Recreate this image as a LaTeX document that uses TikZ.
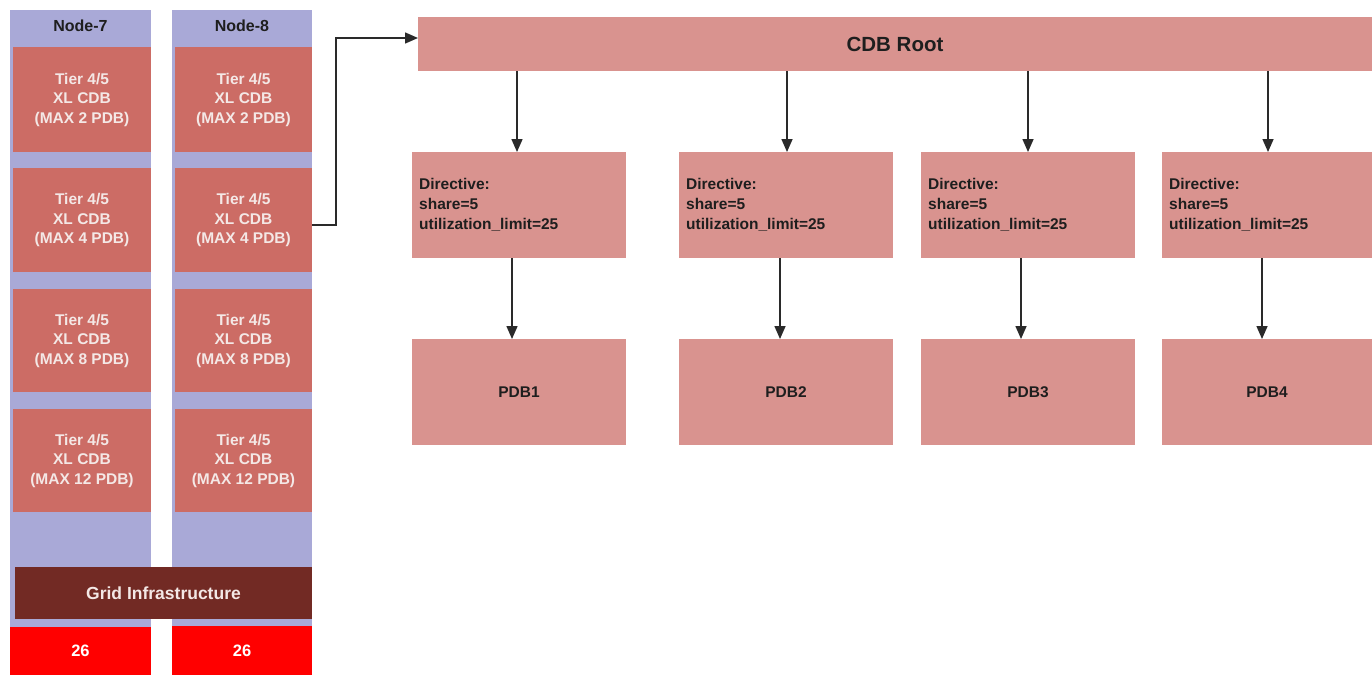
\documentclass[tikz,border=0pt]{standalone}
\usepackage{fontspec}
\setmainfont{Liberation Sans}
\usetikzlibrary{arrows.meta}
\definecolor{lav}{HTML}{A9A9D7}
\definecolor{tier}{HTML}{CC6C65}
\definecolor{pinkbox}{HTML}{D9938F}
\definecolor{grid}{HTML}{722A24}
\definecolor{redbox}{HTML}{FF0000}
\definecolor{lighttxt}{HTML}{F4E8E6}
\definecolor{darktxt}{HTML}{1E1E1E}
\definecolor{arrowc}{HTML}{2A2A2A}
\tikzset{
  box/.style={rectangle, inner sep=0pt, outer sep=0pt, draw=none},
  column/.style={box, fill=lav},
  tierbox/.style={box, fill=tier, text=lighttxt, align=center,
    font=\bfseries\fontsize{15.5}{19.5}\selectfont},
  hdr/.style={text=darktxt, font=\bfseries\fontsize{16}{19}\selectfont, inner sep=0pt},
  gridbox/.style={box, fill=grid, text=lighttxt, font=\bfseries\fontsize{17.5}{20}\selectfont},
  numbox/.style={box, fill=redbox, text=white, font=\bfseries\fontsize{16.5}{20}\selectfont},
  pbox/.style={box, fill=pinkbox, text=darktxt, font=\bfseries\fontsize{15.5}{20}\selectfont},
  dirtext/.style={inner sep=0pt, align=left, text=darktxt, anchor=west,
    font=\bfseries\fontsize{15.5}{20}\selectfont},
  arr/.style={draw=arrowc, line width=1.5pt, -{Triangle[length=13pt,width=11pt]}},
}
\begin{document}
\begin{tikzpicture}[x=1pt,y=-1pt]
\useasboundingbox (0,0) rectangle (1372,675);
\fill[white] (0,0) rectangle (1372,675);

% columns
\node[column, minimum width=141, minimum height=617] (col7) at (80.5,318.5) {};
\node[column, minimum width=140, minimum height=616] (col8) at (242,318) {};
\node[hdr] (h7) at (80.5,26) {Node-7};
\node[hdr] (h8) at (242,26) {Node-8};

% tier boxes
\foreach \i/\yc/\h/\m in {1/99.5/105/2, 2/220/104/4, 3/340.5/103/8, 4/460.5/103/12}{
  \node[tierbox, minimum width=138, minimum height=\h] (a\i) at (82,\yc)
    {Tier 4/5\\XL CDB\\(MAX \m{} PDB)};
  \node[tierbox, minimum width=137, minimum height=\h] (b\i) at (243.5,\yc)
    {Tier 4/5\\XL CDB\\(MAX \m{} PDB)};
}

% grid infrastructure
\node[gridbox, minimum width=297, minimum height=52] (gi) at (163.5,593) {Grid Infrastructure};

% bottom red boxes
\node[numbox, minimum width=141, minimum height=48] (r7) at (80.5,651) {26};
\node[numbox, minimum width=140, minimum height=49] (r8) at (242,650.5) {26};

% CDB root
\node[pbox, minimum width=954, minimum height=54, font=\bfseries\fontsize{20.5}{24}\selectfont] (root) at (895,44) {CDB Root};

% directive boxes
\foreach \i/\xc/\w in {1/519/214, 2/786/214, 3/1028/214, 4/1267/210}{
  \node[pbox, minimum width=\w, minimum height=106] (d\i) at (\xc,205) {};
  \node[dirtext] (t\i) at ([xshift=7]d\i.west) {Directive:\\share=5\\utilization\_limit=25};
  \node[pbox, minimum width=\w, minimum height=106] (p\i) at (\xc,392) {PDB\i};
}

% connectors
\draw[arr] ([yshift=-5]b2.east) -- ++(24,0) |- ([yshift=6]root.west);
\foreach \i/\dx/\ex in {1/-2/-7, 2/1/-6, 3/0/-7, 4/1/-5}{
  \draw[arr] ([xshift=\dx]d\i.north |- root.south) -- ([xshift=\dx]d\i.north);
  \draw[arr] ([xshift=\ex]d\i.south) -- ([xshift=\ex]p\i.north);
}
\end{tikzpicture}
\end{document}
